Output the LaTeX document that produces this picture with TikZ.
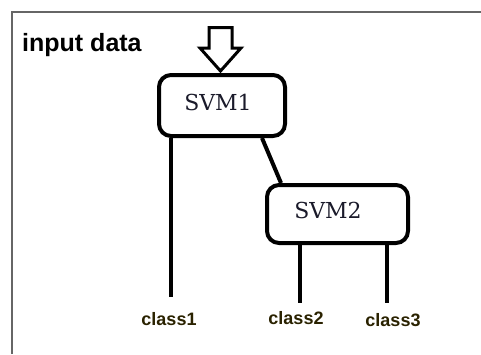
\documentclass[tikz,border=0pt]{standalone}
\usepackage{fontspec}
\newfontfamily\labelfont{Liberation Sans}
\newfontfamily\svmfont{DejaVu Serif}
\definecolor{framegray}{HTML}{666666}
\definecolor{classcol}{HTML}{2A2200}
\definecolor{svmtxt}{HTML}{1A1A2A}
\tikzset{
  svmbox/.style={draw=black, line width=4pt, rounded corners=12pt, fill=white, inner sep=0pt},
  svmtext/.style={inner sep=0pt, text=svmtxt, font=\svmfont\fontsize{22}{26}\selectfont},
  conn/.style={draw=black, line width=4pt},
  hollowarrow/.style={draw=black, line width=3pt, fill=white, line join=miter},
  classlabel/.style={anchor=base, inner sep=0pt, text=classcol, font=\labelfont\bfseries\fontsize{18}{21}\selectfont},
  titlelabel/.style={anchor=base west, inner sep=0pt, font=\labelfont\bfseries\fontsize{25}{30}\selectfont}
}
\begin{document}
\begin{tikzpicture}[x=1pt,y=-1pt]
\useasboundingbox (0,0) rectangle (481,354);
% frame
\draw[framegray, line width=2.5pt] (12,354) -- (12,12) -- (481,12);
% end points of connectors
\coordinate (e1) at (171,297);
\coordinate (e2) at (300,303);
\coordinate (e3) at (387,303);
% boxes
\node[svmbox, minimum width=126pt, minimum height=61pt] (svm1) at (222,105.5) {};
\node[svmbox, minimum width=141pt, minimum height=58pt] (svm2) at (337.5,214) {};
\node[svmtext] (t1) at (218,102) {SVM1};
\node[svmtext] (t2) at (328,210) {SVM2};
% connectors
\draw[conn] (svm1.south -| e1) -- (e1);
\draw[conn] ([xshift=-25pt]svm1.south east) -- ([xshift=16pt]svm2.north west);
\draw[conn] (svm2.south -| e2) -- (e2);
\draw[conn] (svm2.south -| e3) -- (e3);
% input arrow
\draw[hollowarrow] ([shift={(-1.5,-2)}]svm1.north) -- ++(20.5,-23) -- ++(-9,0) -- ++(0,-20.5) -- ++(-23,0) -- ++(0,20.5) -- ++(-9,0) -- cycle;
% labels
\node[titlelabel] (input) at (22,51) {input data};
\node[classlabel] (class1) at (169,325) {class1};
\node[classlabel] (class2) at (296,324) {class2};
\node[classlabel] (class3) at (393,326) {class3};
\end{tikzpicture}
\end{document}
